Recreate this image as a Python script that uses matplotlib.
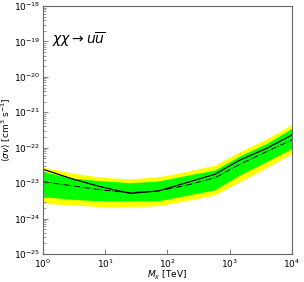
import matplotlib.pyplot as plt
import numpy as np

# log10 of dark matter mass [TeV]
log_m = [0.0, 0.49, 0.92, 1.40, 1.85, 2.28, 2.76, 3.16, 3.59, 4.0]

# log10 <sigma v>
observed = [-22.61, -22.89, -23.10, -23.29, -23.22, -23.00, -22.75, -22.35, -22.02, -21.64]
expected = [-22.96, -23.08, -23.19, -23.27, -23.22, -23.07, -22.85, -22.47, -22.11, -21.78]
green_hi = [-22.68, -22.86, -22.93, -22.99, -22.94, -22.79, -22.63, -22.23, -21.88, -21.45]
green_lo = [-23.38, -23.46, -23.50, -23.50, -23.50, -23.35, -23.19, -22.77, -22.39, -22.02]
yellow_hi = [-22.55, -22.72, -22.83, -22.88, -22.82, -22.68, -22.49, -22.11, -21.75, -21.34]
yellow_lo = [-23.57, -23.62, -23.66, -23.66, -23.64, -23.50, -23.33, -22.96, -22.56, -22.16]

m = 10 ** np.array(log_m)
p = lambda a: 10 ** np.array(a)

fig = plt.figure(figsize=(3.04, 2.82), dpi=100)
ax = fig.add_axes([0.1414, 0.0993, 0.8191, 0.8794])

ax.fill_between(m, p(yellow_lo), p(yellow_hi), color='#ffff00', lw=0)
ax.fill_between(m, p(green_lo), p(green_hi), color='#00ff00', lw=0)
ax.plot(m, p(observed), color='black', lw=0.9)
ax.plot(m, p(expected), color='black', lw=0.7, ls='-.')

ax.set_xscale('log')
ax.set_yscale('log')
ax.set_xlim(1, 1e4)
ax.set_ylim(1e-25, 1e-18)
ax.set_xticks([1, 10, 100, 1000, 10000])
ax.set_yticks([10.0 ** k for k in range(-25, -17)])
ax.tick_params(which='both', direction='in', labelsize=6.5, colors='#888888',
               labelcolor='black', pad=2)
ax.tick_params(axis='x', which='major', pad=2.5)
ax.tick_params(axis='x', which='minor', length=0)

for s in ax.spines.values():
    s.set_color('#666666')

ax.set_xlabel(r'$M_\chi$ [TeV]', fontsize=6.5, labelpad=-0.5)
ax.set_ylabel(r'$\langle\sigma v\rangle$ [cm$^3$ s$^{-1}$]', fontsize=6.5, labelpad=1)
ax.text(0.036, 0.863, r'$\chi\chi \rightarrow u\overline{u}$', transform=ax.transAxes,
        fontsize=10, va='center')

fig.savefig('out.png', dpi=100)
